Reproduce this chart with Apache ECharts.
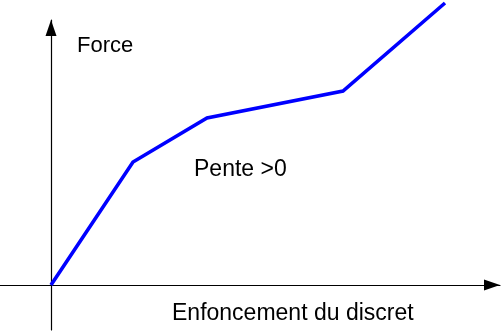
<!DOCTYPE html>
<html>
<head>
<meta charset="utf-8">
<script src="https://cdn.jsdelivr.net/npm/echarts@6/dist/echarts.min.js"></script>
<style>
html,body{margin:0;padding:0;background:#fff;}
#c{width:501px;height:332px;}
</style>
</head>
<body>
<div id="c"></div>
<script>
// Piecewise force curve (arbitrary units)
const enfoncement = [0, 0.82, 1.56, 2.92, 3.94];
const force = [0, 1.23, 1.67, 1.94, 2.82];
const xLabel = 'Enfoncement du discret';
const yLabel = 'Force';
const noteLabel = 'Pente >0';

const chart = echarts.init(document.getElementById('c'), null, {renderer: 'canvas'});
const font = 'Liberation Sans, Arial, Helvetica, sans-serif';
chart.setOption({
  animation: false,
  backgroundColor: '#ffffff',
  grid: {left: 0, right: 1, top: 20, bottom: 2},
  xAxis: {
    type: 'value', min: -0.51, max: 4.49,
    axisLine: {onZero: true, lineStyle: {color: '#000', width: 1.2},
      symbol: ['none', 'triangle'], symbolSize: [11, 16], symbolOffset: [0, -8]},
    axisTick: {show: false}, axisLabel: {show: false}, splitLine: {show: false}
  },
  yAxis: {
    type: 'value', min: -0.45, max: 2.65,
    axisLine: {onZero: true, lineStyle: {color: '#000', width: 1.2},
      symbol: ['none', 'triangle'], symbolSize: [11, 16], symbolOffset: [0, -8]},
    axisTick: {show: false}, axisLabel: {show: false}, splitLine: {show: false}
  },
  series: [{
    type: 'line',
    data: enfoncement.map((x, i) => [x, force[i]]),
    showSymbol: false,
    clip: false,
    lineStyle: {color: '#0000ff', width: 3.6, join: 'miter'}
  }],
  graphic: [
    {type: 'text', left: 77, top: 35, style: {text: yLabel, font: '22px ' + font, fill: '#000'}},
    {type: 'text', left: 194, top: 158, style: {text: noteLabel, font: '23px ' + font, fill: '#000'}},
    {type: 'text', left: 172, top: 302, style: {text: xLabel, font: '23px ' + font, fill: '#000'}}
  ]
});
</script>
</body>
</html>
